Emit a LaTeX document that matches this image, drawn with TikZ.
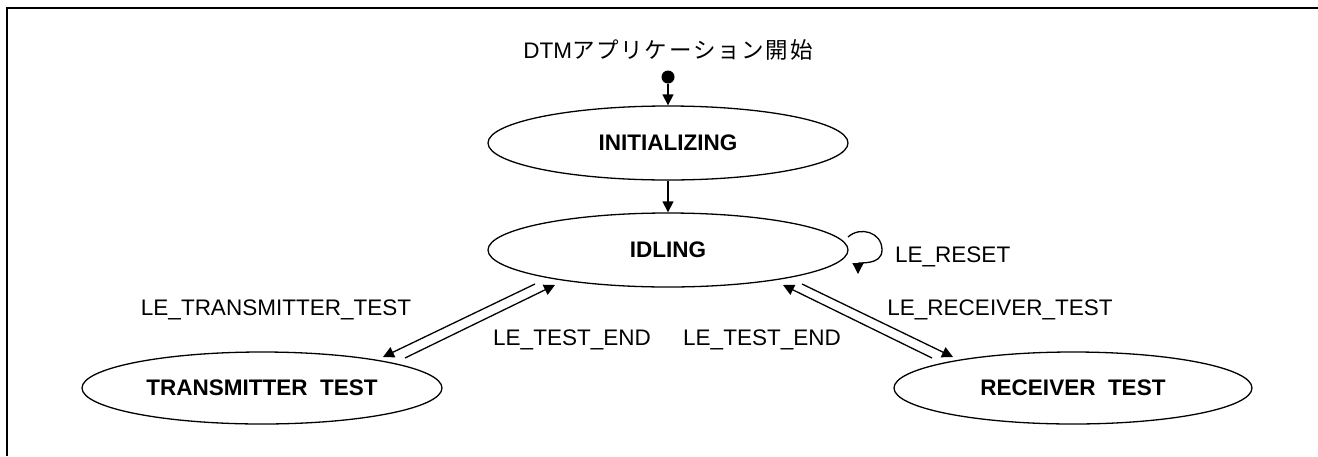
\documentclass[tikz,border=0pt]{standalone}
\usepackage{fontspec}
\setmainfont{Liberation Sans}
\newfontfamily\cjk{Noto Sans CJK JP}
\usetikzlibrary{arrows.meta,shapes.geometric,calc}
\newcommand{\jc}[1]{#1\kern1.7pt}
\begin{document}
\begin{tikzpicture}[x=1pt,y=-1pt,
  state/.style={draw,ellipse,line width=1.3pt,inner sep=0pt,minimum width=360pt,minimum height=74pt,font=\fontsize{22.5}{26}\selectfont\bfseries},
  lbl/.style={inner sep=0pt,font=\fontsize{22.5}{26}\selectfont},
  arr/.style={line width=1.3pt,-{Triangle[length=11pt,width=11pt]}},
  frame/.style={line width=2.6pt}]
\useasboundingbox (0,0) rectangle (1318,456);
\draw[frame] (1318,8) -- (7,8) -- (7,456);
\node[lbl,anchor=base] (title) at (668,58) {DTM\cjk\jc{ア}\jc{プ}\jc{リ}\jc{ケ}\jc{ー}\jc{シ}\jc{ョ}\jc{ン}\jc{開}始};
\node[circle,fill,inner sep=0pt,minimum size=13pt] (start) at (668,77) {};
\node[state] (init) at (668,143) {INITIALIZING};
\node[state] (idle) at (668,250) {IDLING};
\node[state,minimum height=72pt] (trans) at (262,388) {TRANSMITTER\ \ TEST};
\node[state,minimum width=358pt,minimum height=72pt] (recv) at (1073,388) {RECEIVER\ \ TEST};
\draw[arr] (start) -- (init.north);
\draw[arr] (init.south) -- (idle.north);
% left pair
\draw[arr] ($(idle.center)+(-133,34)$) -- ($(trans.center)+(121,-31)$);
\draw[arr] ($(trans.center)+(143,-30)$) -- ($(idle.center)+(-113,35)$);
% right pair
\draw[arr] ($(idle.center)+(134,34)$) -- ($(recv.center)+(-120,-31)$);
\draw[arr] ($(recv.center)+(-141,-30)$) -- ($(idle.center)+(115,35)$);
% self loop
\coordinate (ls) at ($(idle.center)+(180,-13)$);
\coordinate (lm) at ($(idle.center)+(214,0)$);
\coordinate (le) at ($(idle.center)+(190,24)$);
\draw[arr] (ls) .. controls +(12,-11) and +(0,-18) .. (lm) .. controls +(0,16) and +(0,-12) .. (le);
\node[lbl,anchor=base west] (reset) at (895,262) {LE\_RESET};
\node[lbl,anchor=base] (ltt) at (276,315) {LE\_TRANSMITTER\_TEST};
\node[lbl,anchor=base] (lte1) at (572,345) {LE\_TEST\_END};
\node[lbl,anchor=base] (lte2) at (762,345) {LE\_TEST\_END};
\node[lbl,anchor=base] (lrt) at (1000,315) {LE\_RECEIVER\_TEST};
\end{tikzpicture}
\end{document}
